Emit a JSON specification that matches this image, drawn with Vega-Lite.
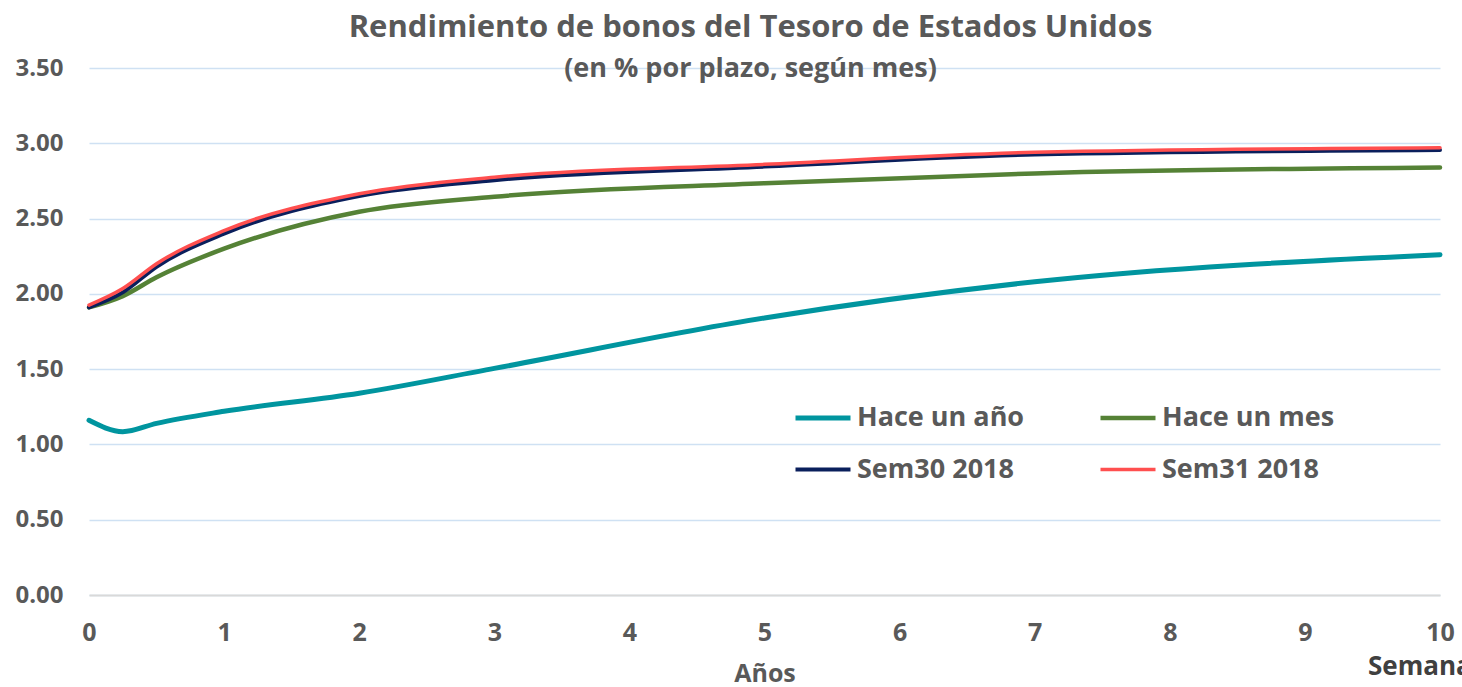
{
  "$schema": "https://vega.github.io/schema/vega-lite/v6.json",
  "autosize": "none",
  "width": 1351,
  "height": 527,
  "padding": {"left": 89, "top": 68, "right": 22, "bottom": 92},
  "background": "white",
  "title": {
    "text": "Rendimiento de bonos del Tesoro de Estados Unidos",
    "subtitle": "(en % por plazo, según mes)",
    "anchor": "middle",
    "frame": "group",
    "dx": -14,
    "font": "Open Sans",
    "fontSize": 31,
    "fontWeight": "bold",
    "color": "#595959",
    "subtitleFont": "Open Sans",
    "subtitleFontSize": 27,
    "subtitleFontWeight": "bold",
    "subtitleColor": "#595959",
    "subtitlePadding": 12,
    "offset": -27
  },
  "config": {
    "view": {"stroke": null},
    "font": "Open Sans"
  },
  "layer": [
    {
      "data": {
        "values": [
          {"plazo": 0, "serie": "Hace un año", "rendimiento": 1.16},
          {"plazo": 0.25, "serie": "Hace un año", "rendimiento": 1.085},
          {"plazo": 0.5, "serie": "Hace un año", "rendimiento": 1.14},
          {"plazo": 1, "serie": "Hace un año", "rendimiento": 1.22},
          {"plazo": 2, "serie": "Hace un año", "rendimiento": 1.34},
          {"plazo": 3, "serie": "Hace un año", "rendimiento": 1.505},
          {"plazo": 5, "serie": "Hace un año", "rendimiento": 1.84},
          {"plazo": 7, "serie": "Hace un año", "rendimiento": 2.08},
          {"plazo": 10, "serie": "Hace un año", "rendimiento": 2.26},
          {"plazo": 0, "serie": "Hace un mes", "rendimiento": 1.91},
          {"plazo": 0.25, "serie": "Hace un mes", "rendimiento": 1.985},
          {"plazo": 0.5, "serie": "Hace un mes", "rendimiento": 2.11},
          {"plazo": 1, "serie": "Hace un mes", "rendimiento": 2.30},
          {"plazo": 2, "serie": "Hace un mes", "rendimiento": 2.545},
          {"plazo": 3, "serie": "Hace un mes", "rendimiento": 2.645},
          {"plazo": 5, "serie": "Hace un mes", "rendimiento": 2.735},
          {"plazo": 7, "serie": "Hace un mes", "rendimiento": 2.80},
          {"plazo": 10, "serie": "Hace un mes", "rendimiento": 2.84},
          {"plazo": 0, "serie": "Sem30 2018", "rendimiento": 1.91},
          {"plazo": 0.25, "serie": "Sem30 2018", "rendimiento": 2.01},
          {"plazo": 0.5, "serie": "Sem30 2018", "rendimiento": 2.18},
          {"plazo": 1, "serie": "Sem30 2018", "rendimiento": 2.40},
          {"plazo": 2, "serie": "Sem30 2018", "rendimiento": 2.65},
          {"plazo": 3, "serie": "Sem30 2018", "rendimiento": 2.755},
          {"plazo": 5, "serie": "Sem30 2018", "rendimiento": 2.845},
          {"plazo": 7, "serie": "Sem30 2018", "rendimiento": 2.925},
          {"plazo": 10, "serie": "Sem30 2018", "rendimiento": 2.955},
          {"plazo": 0, "serie": "Sem31 2018", "rendimiento": 1.925},
          {"plazo": 0.25, "serie": "Sem31 2018", "rendimiento": 2.035},
          {"plazo": 0.5, "serie": "Sem31 2018", "rendimiento": 2.20},
          {"plazo": 1, "serie": "Sem31 2018", "rendimiento": 2.42},
          {"plazo": 2, "serie": "Sem31 2018", "rendimiento": 2.665},
          {"plazo": 3, "serie": "Sem31 2018", "rendimiento": 2.775},
          {"plazo": 5, "serie": "Sem31 2018", "rendimiento": 2.86},
          {"plazo": 7, "serie": "Sem31 2018", "rendimiento": 2.94},
          {"plazo": 10, "serie": "Sem31 2018", "rendimiento": 2.97}
        ]
      },
      "mark": {"type": "line", "interpolate": "monotone", "strokeCap": "round"},
      "encoding": {
        "x": {
          "field": "plazo",
          "type": "quantitative",
          "scale": {"domain": [0, 10], "nice": false},
          "axis": {
            "title": "Años",
            "titleFont": "Open Sans",
            "titleFontSize": 25,
            "titleFontWeight": "bold",
            "titleColor": "#595959",
            "titlePadding": 16,
            "values": [0, 1, 2, 3, 4, 5, 6, 7, 8, 9, 10],
            "format": "d",
            "labelFont": "Open Sans",
            "labelFontSize": 25,
            "labelFontWeight": "bold",
            "labelColor": "#595959",
            "labelPadding": 25,
            "labelFlush": false,
            "ticks": false,
            "grid": false,
            "domainColor": "#D9D9D9",
            "domainWidth": 2
          }
        },
        "y": {
          "field": "rendimiento",
          "type": "quantitative",
          "scale": {"domain": [0, 3.5], "nice": false},
          "axis": {
            "title": null,
            "values": [0, 0.5, 1, 1.5, 2, 2.5, 3, 3.5],
            "format": ".2f",
            "labelFont": "Open Sans",
            "labelFontSize": 24,
            "labelFontWeight": "bold",
            "labelColor": "#595959",
            "labelPadding": 26,
            "ticks": false,
            "domain": false,
            "grid": true,
            "gridColor": "#CFE1F3",
            "gridWidth": 1.5
          }
        },
        "color": {
          "field": "serie",
          "type": "nominal",
          "scale": {
            "domain": ["Hace un año", "Hace un mes", "Sem30 2018", "Sem31 2018"],
            "range": ["#00959F", "#558236", "#0A1F5C", "#FF4F4F"]
          },
          "legend": {
            "title": null,
            "orient": "none",
            "legendX": 704,
            "legendY": 320,
            "columns": 2,
            "direction": "horizontal",
            "padding": 0,
            "symbolType": "stroke",
            "symbolSize": 3025,
            "symbolStrokeWidth": 3.5,
            "labelFont": "Open Sans",
            "labelFontSize": 27,
            "labelFontWeight": "bold",
            "labelColor": "#595959",
            "labelOffset": 4,
            "labelLimit": 400,
            "columnPadding": 66,
            "rowPadding": 9,
            "encode": {
              "symbols": {
                "update": {
                  "strokeWidth": {"signal": "datum.value === 'Hace un año' ? 5 : 3.5"}
                }
              }
            }
          }
        },
        "strokeWidth": {
          "field": "serie",
          "type": "nominal",
          "scale": {
            "domain": ["Hace un año", "Hace un mes", "Sem30 2018", "Sem31 2018"],
            "range": [5, 3.5, 3.5, 3.5]
          },
          "legend": null
        }
      }
    },
    {
      "data": {"values": [{"etiqueta": "Semana"}]},
      "mark": {
        "type": "text",
        "align": "left",
        "baseline": "middle",
        "dx": -72,
        "font": "Open Sans",
        "fontSize": 26,
        "fontWeight": "bold",
        "color": "#404040",
        "clip": false
      },
      "encoding": {
        "text": {"field": "etiqueta", "type": "nominal"},
        "x": {"datum": 10},
        "y": {"datum": -0.48}
      }
    }
  ]
}
